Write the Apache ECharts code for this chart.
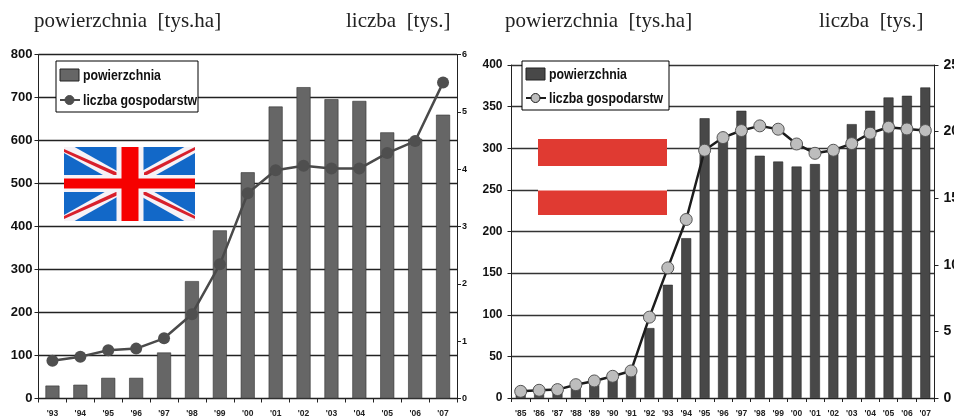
<!DOCTYPE html>
<html>
<head>
<meta charset="utf-8">
<style>
  html, body { margin: 0; padding: 0; background: #fff; }
  #chart { width: 954px; height: 418px; }
</style>
<script src="https://cdn.jsdelivr.net/npm/echarts@6/dist/echarts.min.js"></script>
</head>
<body>
<div id="chart"></div>
<script>
// wykres lewy (Wielka Brytania)
const ukYears = ["'93", "'94", "'95", "'96", "'97", "'98", "'99", "'00", "'01", "'02", "'03", "'04", "'05", "'06", "'07"];
const ukArea = [30, 32, 48, 48, 107, 273, 391, 526, 679, 724, 696, 692, 619, 604, 660];
const ukFarms = [0.66, 0.73, 0.84, 0.87, 1.05, 1.47, 2.34, 3.58, 3.98, 4.06, 4.01, 4.01, 4.28, 4.49, 5.51];

// wykres prawy (Austria)
const atYears = ["'85", "'86", "'87", "'88", "'89", "'90", "'91", "'92", "'93", "'94", "'95", "'96", "'97", "'98", "'99", "'00", "'01", "'02", "'03", "'04", "'05", "'06", "'07"];
const atArea = [4, 6, 9, 12, 17, 22, 29, 84, 136, 192, 336, 312, 345, 291, 284, 278, 281, 295, 329, 345, 361, 363, 373];
const atFarms = [0.5, 0.58, 0.63, 1.0, 1.28, 1.63, 2.03, 6.07, 9.77, 13.4, 18.6, 19.55, 20.08, 20.43, 20.18, 19.07, 18.37, 18.6, 19.1, 19.88, 20.33, 20.2, 20.08];

const sans = '"Liberation Sans", sans-serif';
const serif = '"Liberation Serif", serif';

const chart = echarts.init(document.getElementById('chart'));

function title(x, text) {
  return { type: 'text', left: x, top: 11, style: { text: text, font: '21px ' + serif, fill: '#222' } };
}

function rect(x, y, w, h, fill) {
  return { type: 'rect', shape: { x: x, y: y, width: w, height: h }, style: { fill: fill }, z: 20 };
}

function poly(points, fill) {
  return { type: 'polygon', shape: { points: points }, style: { fill: fill }, z: 20 };
}

// flaga brytyjska
function ukFlag(x, y, w, h) {
  const r = x + w, b = y + h, cx = x + w / 2 + 0.5, cy = y + h / 2 - 0.5;
  const dx = 6 * w / h;
  return [
    rect(x, y, w, h, '#1268c8'),
    // biale przekatne, przyciete do prostokata
    poly([[x, y], [x + dx, y], [r, b - 6], [r, b], [r - dx, b], [x, y + 6]], '#f6f2f6'),
    poly([[x, b], [x, b - 6], [r - dx, y], [r, y], [r, y + 6], [x + dx, b]], '#f6f2f6'),
    poly([[x, y + 2], [cx - 13, cy - 11], [cx - 13, cy - 7], [x, y + 5]], '#d8202c'),
    poly([[r, y], [cx + 14, cy - 11], [cx + 14, cy - 7], [r, y + 3]], '#d8202c'),
    poly([[x, b - 5], [cx - 13, cy + 8], [cx - 13, cy + 12], [x, b - 2]], '#d8202c'),
    poly([[r, b - 5], [cx + 13, cy + 7], [cx + 13, cy + 11], [r, b - 2]], '#d8202c'),
    rect(cx - 13.5, y, 27, h, '#f6f2f6'),
    rect(x, cy - 8.5, w, 17, '#f6f2f6'),
    rect(cx - 8.5, y, 17, h, '#f60000'),
    rect(x, cy - 5, w, 10, '#f60000')
  ];
}

function legend(x, y, w, h, fill, lineColor, markColor, swatchY, lineY) {
  const label = (text, ty) => ({
    type: 'text', x: x + 27, y: ty, scaleX: 0.82,
    style: { text: text, font: 'bold 15px ' + sans, fill: '#111', verticalAlign: 'middle' }, z: 22
  });
  return [
    { type: 'rect', shape: { x: x, y: y, width: w, height: h }, style: { fill: '#fff', stroke: '#000', lineWidth: 1 }, z: 20 },
    { type: 'rect', shape: { x: x + 4, y: swatchY, width: 19, height: 12 }, style: { fill: fill, stroke: '#222', lineWidth: 1 }, z: 21 },
    { type: 'line', shape: { x1: x + 4, y1: lineY, x2: x + 24, y2: lineY }, style: { stroke: lineColor, lineWidth: 2 }, z: 21 },
    { type: 'circle', shape: { cx: x + 13.5, cy: lineY, r: 4.5 }, style: { fill: markColor, stroke: lineColor, lineWidth: 1 }, z: 22 },
    label('powierzchnia', swatchY + 7),
    label('liczba gospodarstw', lineY + 1)
  ];
}

function valueAxis(gridIndex, position, max, interval, fontSize, margin) {
  return {
    type: 'value', gridIndex: gridIndex, position: position, min: 0, max: max, interval: interval,
    axisLine: { show: true, lineStyle: { color: '#222', width: 1 } },
    axisTick: { show: true, length: 4, lineStyle: { color: '#222' } },
    splitLine: { show: false },
    axisLabel: { color: '#111', fontFamily: sans, fontWeight: 'bold', fontSize: fontSize, margin: margin }
  };
}

function categoryAxis(gridIndex, data) {
  return {
    type: 'category', gridIndex: gridIndex, data: data, boundaryGap: true,
    axisLine: { show: true, lineStyle: { color: '#222', width: 1 } },
    axisTick: { show: true, alignWithLabel: false, length: 4, lineStyle: { color: '#222' } },
    axisLabel: { color: '#222', fontFamily: sans, fontWeight: 'bold', fontSize: 8.5, margin: 11, interval: 0 }
  };
}

const option = {
  animation: false,
  backgroundColor: '#fff',
  grid: [
    // bez outerBounds, etykieta "25" ma wychodzic poza kadr jak w oryginale
    { left: 38.5, right: 954 - 457, top: 54.5, height: 344, outerBoundsMode: 'none' },
    { left: 511.5, right: 954 - 934.5, top: 65, height: 333, outerBoundsMode: 'none' }
  ],
  xAxis: [categoryAxis(0, ukYears), categoryAxis(1, atYears)],
  yAxis: [
    Object.assign(valueAxis(0, 'left', 800, 100, 13, 6), {
      splitLine: { show: true, lineStyle: { color: '#222', width: 1.4 } }
    }),
    valueAxis(0, 'right', 6, 1, 9, 5),
    Object.assign(valueAxis(1, 'left', 400, 50, 12, 9), {
      splitLine: { show: true, lineStyle: { color: '#333', width: 1.4 } }
    }),
    valueAxis(1, 'right', 25, 5, 14, 9)
  ],
  series: [
    {
      type: 'bar', xAxisIndex: 0, yAxisIndex: 0, data: ukArea, barWidth: 14,
      itemStyle: { color: '#666666', borderColor: '#333', borderWidth: 0.6 }
    },
    {
      type: 'line', xAxisIndex: 0, yAxisIndex: 1, data: ukFarms, symbol: 'circle', symbolSize: 12,
      lineStyle: { color: '#4a4a4a', width: 2.5 }, itemStyle: { color: '#4f4f4f' }
    },
    {
      type: 'bar', xAxisIndex: 1, yAxisIndex: 2, data: atArea, barWidth: 10,
      itemStyle: { color: '#484848', borderColor: '#2a2a2a', borderWidth: 0.6 }
    },
    {
      type: 'line', xAxisIndex: 1, yAxisIndex: 3, data: atFarms, symbol: 'circle', symbolSize: 12,
      lineStyle: { color: '#1c1c1c', width: 2.5 },
      itemStyle: { color: '#bdbdbd', borderColor: '#555', borderWidth: 1 }
    }
  ],
  graphic: [
    title(34, 'powierzchnia  [tys.ha]'),
    title(346, 'liczba  [tys.]'),
    title(505, 'powierzchnia  [tys.ha]'),
    title(819, 'liczba  [tys.]'),
    ...legend(56, 61, 142, 51, '#666', '#4a4a4a', '#4f4f4f', 69, 100),
    ...ukFlag(64, 147, 131, 74),
    ...legend(522, 61, 147, 49, '#484848', '#1c1c1c', '#bdbdbd', 68, 98),
    rect(538, 139, 129, 27, '#e03a32'),
    rect(538, 166, 129, 25, '#ffffff'),
    rect(538, 190.5, 129, 24.5, '#e03a32')
  ]
};

chart.setOption(option);
</script>
</body>
</html>
